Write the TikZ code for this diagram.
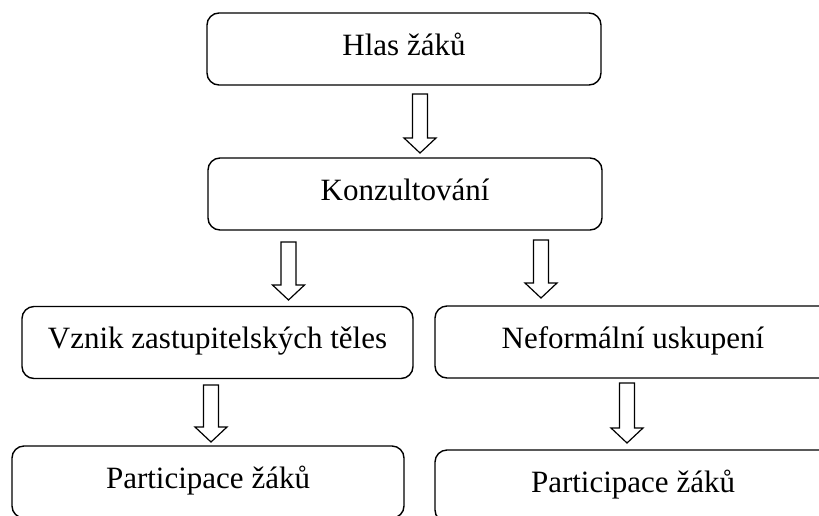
\documentclass[tikz,border=0pt]{standalone}
\usepackage{fontspec}
\setmainfont{Liberation Serif}
\usetikzlibrary{calc}
\tikzset{
  box/.style={draw, line width=1.4pt, rounded corners=12pt, minimum height=72pt,
    inner sep=0pt, text height=20pt, text depth=8pt,
    font=\fontsize{31}{37}\selectfont},
  barrow/.style={draw, line width=1.2pt, fill=white, line join=miter}
}
\newcommand\blockarrow[2]{%
  \path[barrow] let \p1=(#1), \p2=(#2) in
    (\x1-7.5pt,\y1) -- (\x1+7.5pt,\y1) -- (\x1+7.5pt,\y2+15pt) -- (\x1+16pt,\y2+15pt)
    -- (\x1,\y2) -- (\x1-16pt,\y2+15pt) -- (\x1-7.5pt,\y2+15pt) -- cycle;}
\begin{document}
\begin{tikzpicture}[x=1pt,y=-1pt]
\useasboundingbox (0,0) rectangle (819,515);
\clip (0,0) rectangle (819,515);
\fill[white] (0,0) rectangle (819,515);
\node[box, minimum width=394pt] (b1) at (404,49) {Hlas žáků};
\node[box, minimum width=394pt] (b2) at (405,194) {Konzultování};
\node[box, minimum width=391pt] (b3) at (217.5,342.5) {Vznik zastupitelských těles};
\node[box, minimum width=392pt] (b4) at (208,482) {Participace žáků};
\node[box, minimum width=396pt] (b5) at (633,342) {Neformální uskupení};
\node[box, minimum width=396pt] (b6) at (633,486) {Participace žáků};
\coordinate (a1s) at (420,94);  \coordinate (a1e) at (420,153);
\coordinate (a2s) at (288.5,242); \coordinate (a2e) at (288.5,300);
\coordinate (a4s) at (541,240); \coordinate (a4e) at (541,298);
\coordinate (a3s) at (211,385); \coordinate (a3e) at (211,442);
\coordinate (a5s) at (627,383); \coordinate (a5e) at (627,443);
\blockarrow{a1s}{a1e}
\blockarrow{a2s}{a2e}
\blockarrow{a4s}{a4e}
\blockarrow{a3s}{a3e}
\blockarrow{a5s}{a5e}
\end{tikzpicture}
\end{document}
